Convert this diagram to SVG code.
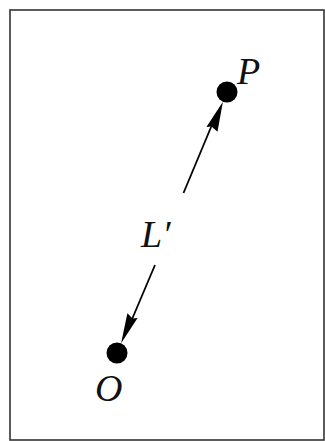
<svg xmlns="http://www.w3.org/2000/svg" width="325" height="441" viewBox="0 0 325 441">
<style>
.lbl{font-family:"Liberation Serif","Times New Roman",serif;font-style:italic;font-size:38px;fill:#111}
.ln{stroke:#000;stroke-width:1.8;fill:none}
.dot{fill:#000}
.head{fill:#000}
</style>
<rect x="10" y="10" width="314" height="430" fill="#fff" stroke="#333" stroke-width="1.6"/>
<g id="connectors">
<line class="ln" x1="183.5" y1="193" x2="214" y2="120"/>
<line class="ln" x1="155" y1="265" x2="130" y2="324"/>
<polygon class="head" points="222.9,101.7 217.5,131.7 211.5,126.6 206.4,127.1"/>
<polygon class="head" points="121.1,343.3 127.4,313.3 132.5,318.4 137.6,317.9"/>
</g>
<g id="P"><circle class="dot" cx="227" cy="92" r="10.5"/><text class="lbl" x="237" y="84">P</text></g>
<g id="O"><circle class="dot" cx="117" cy="353" r="10.5"/><text class="lbl" x="95" y="401">O</text></g>
<g id="Lprime"><text class="lbl" x="141" y="247">L′</text></g>
</svg>
